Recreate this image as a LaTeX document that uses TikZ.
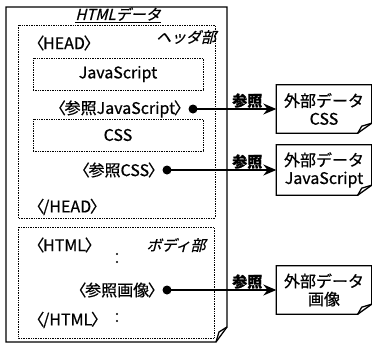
\documentclass[tikz,border=0pt]{standalone}
\usepackage{fontspec}
\setmainfont{Noto Sans CJK JP}[FakeBold=0.6]
\newfontfamily\slantjp{Noto Sans CJK JP}[FakeSlant=0.25, FakeBold=0.6]
\usetikzlibrary{positioning,arrows.meta}

\tikzset{
  docline/.style={line width=1.3pt},
  dotline/.style={densely dotted, line width=0.7pt},
  txt/.style={inner sep=0pt, font=\fontsize{16}{18}\selectfont},
  lefttxt/.style={txt, anchor=west},
  slanttxt/.style={inner sep=0pt, font=\fontsize{15}{17}\selectfont\slantjp},
  refdot/.style={circle, fill, inner sep=0pt, minimum size=9pt},
  refarrow/.style={line width=1.3pt, -{Stealth[length=13pt,width=11pt]}},
  reflbl/.style={inner sep=0pt, anchor=south, font=\fontsize{15}{17}\selectfont\bfseries},
  innerbox/.style={txt, draw, dotline, minimum width=170pt, minimum height=32pt},
  extbox/.style={txt, align=center, minimum width=95pt, minimum height=48pt},
  vdot/.style={circle, fill, inner sep=0pt, minimum size=2.2pt},
}

% narrow angle brackets
\newcommand{\lab}{\kern-0.3em〈\kern-0.08em}
\newcommand{\rab}{\kern-0.08em〉\kern-0.3em}

% external file with a dog-eared corner
\newcommand{\foldbox}[1]{%
  \draw[docline] (#1.north west) -- (#1.north east) -- ([yshift=10pt]#1.south east)
    -- ([xshift=-14pt]#1.south east) -- (#1.south west) -- cycle;
  \draw[docline] ([xshift=-14pt]#1.south east) -- ([xshift=-10pt,yshift=7pt]#1.south east)
    -- ([yshift=10pt]#1.south east);}

\begin{document}
\begin{tikzpicture}[x=1pt, y=-1pt]
  \useasboundingbox (0,0) rectangle (372,343);

  % the html document
  \draw[docline] (6,7) -- (227,7) -- (227,327) -- (216,342) -- (6,342) -- cycle;
  \draw[docline] (216,342) -- (219,332) -- (227,327);
  \node[slanttxt] (title) at (118,14) {HTMLデータ};
  \draw[line width=0.8pt] ([yshift=-1pt]title.south west) -- ([yshift=-1pt]title.south east);

  % header part
  \draw[dotline] (18,25) rectangle (215,218);
  \node[lefttxt] (headopen) at (33,43) {\lab HEAD\rab};
  \node[slanttxt] (headlbl) at (186,37) {ヘッダ部};
  \node[innerbox] (jsbox) at (118,74) {JavaScript};
  \node[refdot] (jsdot) at (193,109) {};
  \node[txt, left=3pt of jsdot] (jsref) {\lab 参照JavaScript\rab};
  \node[innerbox] (cssbox) at (118,135) {CSS};
  \node[refdot] (cssdot) at (167,170) {};
  \node[txt, left=3pt of cssdot] (cssref) {\lab 参照CSS\rab};
  \node[lefttxt] (headclose) at (33,207) {\lab/HEAD\rab};

  % body part
  \draw[dotline] (18,227) rectangle (214,338);
  \node[lefttxt] (htmlopen) at (33,245) {\lab HTML\rab};
  \node[slanttxt] (bodylbl) at (176,245) {ボディ部};
  \node[vdot] (vdot1) at (117,254) {};
  \node[vdot] (vdot2) at (117,262) {};
  \node[refdot] (imgdot) at (167,290) {};
  \node[txt, left=3pt of imgdot] (imgref) {\lab 参照画像\rab};
  \node[vdot] (vdot3) at (117,314) {};
  \node[vdot] (vdot4) at (117,321) {};
  \node[lefttxt] (htmlclose) at (33,320) {\lab/HTML\rab};

  % external files
  \node[extbox] (extcss) at (324,109) {外部データ\\CSS};
  \node[extbox, minimum height=50pt] (extjs) at (324,170) {外部データ\\JavaScript};
  \node[extbox] (extimg) at (324,290) {外部データ\\画像};
  \foldbox{extcss}
  \foldbox{extjs}
  \foldbox{extimg}

  % references
  \draw[refarrow] (jsdot.center) -- (extcss.west);
  \draw[refarrow] (cssdot.center) -- (extjs.west);
  \draw[refarrow] (imgdot.center) -- (extimg.west);
  \node[reflbl] (lbl1) at ([xshift=-29pt,yshift=1pt]extcss.west) {参照};
  \node[reflbl] (lbl2) at ([xshift=-29pt,yshift=1pt]extjs.west) {参照};
  \node[reflbl] (lbl3) at ([xshift=-29pt,yshift=1pt]extimg.west) {参照};
\end{tikzpicture}
\end{document}
